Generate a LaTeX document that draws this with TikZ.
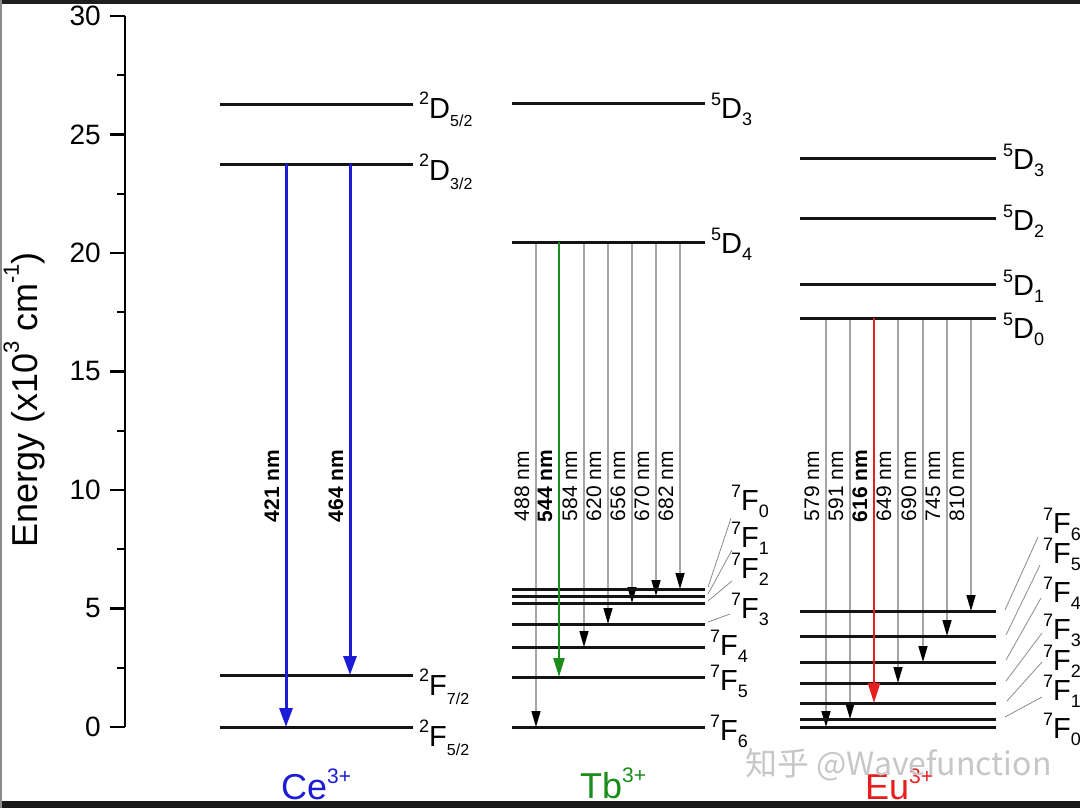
\documentclass[tikz,border=0pt]{standalone}
\usepackage{fontspec}
\setmainfont{Liberation Sans}
\newfontfamily\cjk{Noto Sans CJK SC}
\usetikzlibrary{arrows.meta}
\definecolor{ceblue}{RGB}{28,28,215}
\definecolor{tbgreen}{RGB}{25,140,25}
\definecolor{eured}{RGB}{230,30,30}
\definecolor{trgray}{RGB}{165,165,165}
\definecolor{leadgray}{RGB}{140,140,140}
\newcommand\lvtxt[3]{\fontsize{29}{29}\selectfont\raisebox{13pt}{\fontsize{18}{18}\selectfont #1}#2\raisebox{-7pt}{\fontsize{18}{18}\selectfont #3}}
\newcommand\lvtxc[3]{\fontsize{29}{29}\selectfont\raisebox{14pt}{\fontsize{18}{18}\selectfont #1}#2\raisebox{-9pt}{\fontsize{16}{16}\selectfont #3}}
\newcommand\ionlab[2]{\fontsize{36}{36}\selectfont #1\raisebox{16pt}{\fontsize{21}{21}\selectfont #2}}
\begin{document}
\begin{tikzpicture}[x=1pt,y=-1pt,
  lvl/.style={line width=3pt, black!92},
  axisl/.style={line width=2.5pt},
  tickl/.style={line width=2.2pt},
  gtr/.style={line width=1.5pt, trgray, -{Triangle[width=9pt,length=16pt,color=black,fill=black]}},
  cetr/.style={line width=3pt, ceblue, -{Triangle[width=13pt,length=19pt]}},
  tbtr/.style={line width=2.5pt, tbgreen, -{Triangle[width=11pt,length=19pt]}},
  eutr/.style={line width=2.5pt, eured, -{Triangle[width=12pt,length=20pt]}},
  wl/.style={font=\fontsize{21}{21}\selectfont, rotate=90, anchor=base, inner sep=0pt},
  lvlab/.style={anchor=base west, inner sep=0pt},
  lead/.style={line width=0.8pt, leadgray},
  ticklab/.style={anchor=east, inner sep=0pt, font=\fontsize{28}{28}\selectfont}
]
\useasboundingbox (0,0) rectangle (1080,808);
\fill[white] (0,0) rectangle (1080,808);

% ---------- axis ----------
\coordinate (axtop) at (125,16);
\coordinate (axbot) at (125,727);
\draw[axisl] (axtop) -- (axbot);
\foreach \v in {0,5,...,30} {
  \pgfmathsetmacro\yy{727-23.7*\v}
  \coordinate (tk\v) at (125,\yy);
  \draw[tickl] (tk\v) -- ++(-15,0);
  \node[ticklab] (tl\v) at (101,\yy) {\v};
}
\foreach \v in {2.5,7.5,...,27.5} {
  \pgfmathsetmacro\yy{727-23.7*\v}
  \coordinate (mt) at (125,\yy);
  \draw[tickl] (mt) -- ++(-8,0);
}
\node[rotate=90, anchor=base, inner sep=0pt, font=\fontsize{36}{36}\selectfont] (ylab) at (37,400)
  {Energy (x10\raisebox{18pt}{\fontsize{22}{22}\selectfont 3} cm\raisebox{18pt}{\fontsize{22}{22}\selectfont -1})};

% ---------- Ce3+ ----------
\foreach \n/\yy in {ceD52/105, ceD32/164, ceF72/675, ceF52/727} {
  \coordinate (\n) at (220,\yy);
  \coordinate (\n e) at (413,\yy);
  \draw[lvl] (\n) -- (\n e);
}
\node[lvlab] (lceD52) at (419,118) {\lvtxc{2}{D}{5/2}};
\node[lvlab] (lceD32) at (419,180) {\lvtxc{2}{D}{3/2}};
\node[lvlab] (lceF72) at (419,695) {\lvtxc{2}{F}{7/2}};
\node[lvlab] (lceF52) at (419,746) {\lvtxc{2}{F}{5/2}};
\coordinate (cex1) at (286,0);
\coordinate (cex2) at (350,0);
\draw[cetr] (cex1 |- ceD32) -- (cex1 |- ceF52);
\draw[cetr] (cex2 |- ceD32) -- (cex2 |- ceF72);
\node[wl, font=\fontsize{21}{21}\selectfont\bfseries] (cew1) at (279,486) {421 nm};
\node[wl, font=\fontsize{21}{21}\selectfont\bfseries] (cew2) at (343,486) {464 nm};
\node[anchor=base west, inner sep=0pt, text=ceblue] (ceion) at (281,799) {\ionlab{Ce}{3+}};

% ---------- Tb3+ ----------
\foreach \n/\yy in {tbD3/104, tbD4/242, tbF0/589, tbF1/596, tbF2/603, tbF3/624, tbF4/647, tbF5/677, tbF6/727} {
  \coordinate (\n) at (512,\yy);
  \coordinate (\n e) at (705,\yy);
}
\foreach \xx/\tg/\w [count=\i] in {536/tbF6/488, 584/tbF4/584, 608/tbF3/620, 632/tbF2/656, 656/tbF1/670, 680/tbF0/682} {
  \coordinate (tbx\i) at (\xx,0);
  \draw[gtr] (tbx\i |- tbD4) -- (tbx\i |- \tg);
  \node[wl] (tbw\i) at (\xx-7,486) {\w\ nm};
}
\foreach \n in {tbD3, tbD4, tbF0, tbF1, tbF2, tbF3, tbF4, tbF5, tbF6} {
  \draw[lvl] (\n) -- (\n e);
}
\coordinate (tbxg) at (559,0);
\draw[tbtr] (tbxg |- tbD4) -- (tbxg |- tbF5);
\node[wl, font=\fontsize{21}{21}\selectfont\bfseries] (tbwg) at (552,486) {544 nm};
\node[lvlab] (ltbD3) at (711,118) {\lvtxt{5}{D}{3}};
\node[lvlab] (ltbD4) at (711,253) {\lvtxt{5}{D}{4}};
\node[lvlab] (ltbF0) at (731,510) {\lvtxt{7}{F}{0}};
\node[lvlab] (ltbF1) at (731,547) {\lvtxt{7}{F}{1}};
\node[lvlab] (ltbF2) at (731,578) {\lvtxt{7}{F}{2}};
\node[lvlab] (ltbF3) at (731,618) {\lvtxt{7}{F}{3}};
\node[lvlab] (ltbF4) at (710,655) {\lvtxt{7}{F}{4}};
\node[lvlab] (ltbF5) at (710,690) {\lvtxt{7}{F}{5}};
\node[lvlab] (ltbF6) at (710,740) {\lvtxt{7}{F}{6}};
\coordinate (tbl0a) at (708,587); \coordinate (tbl0b) at (731,518);
\coordinate (tbl1a) at (708,594); \coordinate (tbl1b) at (732,550);
\coordinate (tbl2a) at (708,601); \coordinate (tbl2b) at (732,581);
\coordinate (tbl3a) at (708,622); \coordinate (tbl3b) at (730,614);
\foreach \i in {0,1,2,3} { \draw[lead] (tbl\i a) -- (tbl\i b); }
\node[anchor=base west, inner sep=0pt, text=tbgreen] (tbion) at (580,798) {\ionlab{Tb}{3+}};

% ---------- Eu3+ ----------
\foreach \n/\yy in {euD3/158, euD2/218, euD1/284, euD0/318, euF6/611, euF5/636, euF4/662, euF3/683, euF2/703, euF1/719, euF0/727} {
  \coordinate (\n) at (800,\yy);
  \coordinate (\n e) at (996,\yy);
}
\foreach \xx/\tg/\w [count=\i] in {826/euF0/579, 850/euF1/591, 898/euF3/649, 923/euF4/690, 947/euF5/745, 971/euF6/810} {
  \coordinate (eux\i) at (\xx,0);
  \draw[gtr] (eux\i |- euD0) -- (eux\i |- \tg);
  \node[wl] (euw\i) at (\xx-7,486) {\w\ nm};
}
\foreach \n in {euD3, euD2, euD1, euD0, euF6, euF5, euF4, euF3, euF2, euF1, euF0} {
  \draw[lvl] (\n) -- (\n e);
}
\coordinate (euxr) at (874,0);
\draw[eutr] (euxr |- euD0) -- (euxr |- euF2);
\node[wl, font=\fontsize{21}{21}\selectfont\bfseries] (euwr) at (867,486) {616 nm};
\node[lvlab] (leuD3) at (1003,169) {\lvtxt{5}{D}{3}};
\node[lvlab] (leuD2) at (1003,230) {\lvtxt{5}{D}{2}};
\node[lvlab] (leuD1) at (1003,295) {\lvtxt{5}{D}{1}};
\node[lvlab] (leuD0) at (1003,338) {\lvtxt{5}{D}{0}};
\node[lvlab] (leuF6) at (1043,533) {\lvtxt{7}{F}{6}};
\node[lvlab] (leuF5) at (1043,563) {\lvtxt{7}{F}{5}};
\node[lvlab] (leuF4) at (1043,602) {\lvtxt{7}{F}{4}};
\node[lvlab] (leuF3) at (1043,639) {\lvtxt{7}{F}{3}};
\node[lvlab] (leuF2) at (1043,670) {\lvtxt{7}{F}{2}};
\node[lvlab] (leuF1) at (1043,700) {\lvtxt{7}{F}{1}};
\node[lvlab] (leuF0) at (1043,738) {\lvtxt{7}{F}{0}};
\coordinate (eul6a) at (1005,610); \coordinate (eul6b) at (1038,537);
\coordinate (eul5a) at (1006,635); \coordinate (eul5b) at (1040,565);
\coordinate (eul4a) at (1006,660); \coordinate (eul4b) at (1041,598);
\coordinate (eul3a) at (1006,681); \coordinate (eul3b) at (1042,633);
\coordinate (eul2a) at (1007,701); \coordinate (eul2b) at (1042,662);
\coordinate (eul1a) at (1005,717); \coordinate (eul1b) at (1042,697);
\foreach \i in {1,...,6} { \draw[lead] (eul\i a) -- (eul\i b); }
\node[anchor=base west, inner sep=0pt, text=eured] (euion) at (865,799) {\ionlab{Eu}{3+}};

% ---------- watermark and frame ----------
\node[anchor=base west, inner sep=0pt, text=black!22, font=\cjk\fontsize{32}{32}\selectfont] (wm) at (745,775) {知乎 @Wavefunction};
\fill[black!88] (0,0) rectangle (1080,4);
\fill[black!90] (0,801) rectangle (1080,808);
\fill[black!45] (0,0) rectangle (2,808);
\end{tikzpicture}
\end{document}
